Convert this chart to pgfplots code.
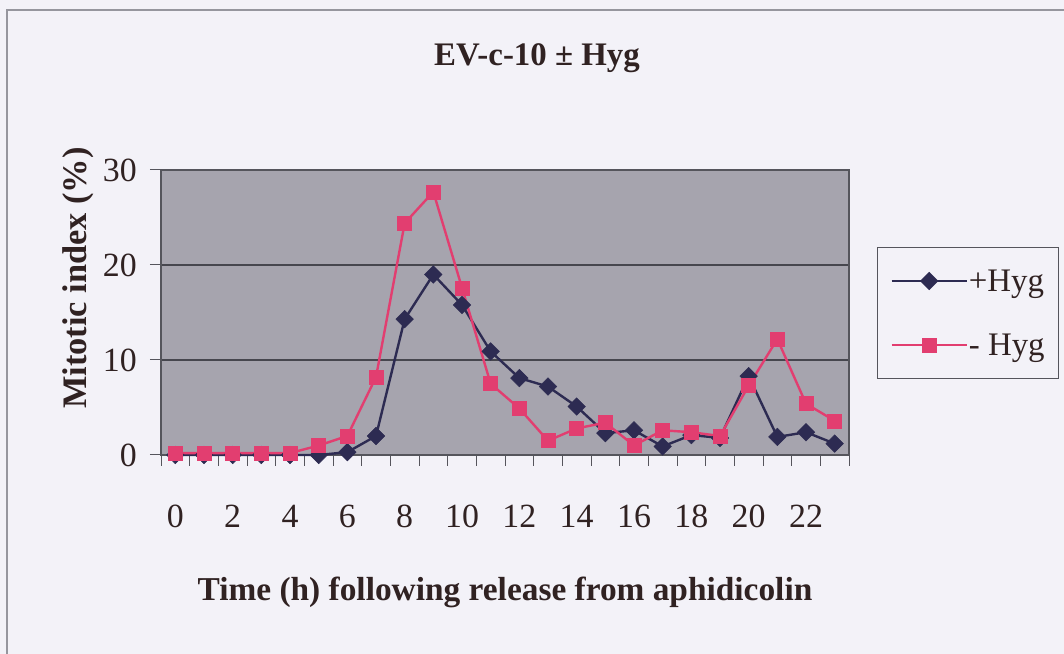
\documentclass[border=0pt]{standalone}
\usepackage{fontspec}
\setmainfont{Liberation Serif}
\usepackage{pgfplots}
\usepackage{pgfplotstable}
\pgfplotsset{compat=1.18}
\definecolor{pagebg}{RGB}{243,242,248}
\definecolor{plotbg}{RGB}{166,164,174}
\definecolor{axisc}{RGB}{85,85,92}
\definecolor{gridc}{RGB}{70,70,78}
\definecolor{navyc}{RGB}{45,43,82}
\definecolor{pinkc}{RGB}{226,62,112}
\definecolor{textc}{RGB}{48,34,34}
\definecolor{framec}{RGB}{150,150,158}

\pgfplotstableread{
t plus minus
0 0.0 0.2
1 0.0 0.2
2 0.0 0.2
3 0.0 0.2
4 0.0 0.2
5 0.0 1.0
6 0.3 2.0
7 2.0 8.2
8 14.3 24.4
9 19.0 27.7
10 15.8 17.6
11 10.9 7.5
12 8.1 4.9
13 7.2 1.5
14 5.1 2.8
15 2.3 3.4
16 2.6 1.0
17 0.9 2.6
18 2.1 2.4
19 1.8 2.0
20 8.3 7.3
21 1.9 12.2
22 2.4 5.4
23 1.2 3.6
}\datatable

\begin{document}
\begin{tikzpicture}[font=\fontsize{33}{40}\selectfont, every node/.append style={text=textc}]
\useasboundingbox (0bp,0bp) rectangle (1064bp,654bp);
\fill[pagebg] (0bp,0bp) rectangle (1064bp,654bp);
\draw[framec, line width=1.2bp] (7bp,0bp) -- (7bp,644bp) -- (1064bp,644bp);
\begin{axis}[
  at={(161bp,199bp)}, anchor=south west,
  scale only axis, width=688bp, height=285bp,
  xmin=-0.5, xmax=23.5, ymin=0, ymax=30,
  clip=false,
  axis background/.style={fill=plotbg},
  axis line style={draw=axisc, line width=1.2bp},
  tick align=outside, major tick length=11bp,
  tick style={draw=axisc, line width=1bp},
  xtick pos=bottom, ytick pos=left,
  xtick={-0.5,0.5,...,23.5}, xticklabels={},
  extra x ticks={0,2,...,22},
  extra x tick labels={0,2,4,6,8,10,12,14,16,18,20,22},
  extra x tick style={major tick length=0pt, xticklabel style={anchor=base, yshift=-72bp}},
  ytick={0,10,20,30}, yticklabels={0,10,20,30},
  yticklabel style={anchor=east, inner sep=0pt, xshift=-13bp},
  ticklabel style={font=\fontsize{34}{40}\selectfont},
  ymajorgrids, grid style={draw=gridc, line width=1.1bp},
  title={EV-c-10 ± Hyg},
  title style={at={(axis description cs:0.5465,1.344)}, anchor=base, font=\bfseries\fontsize{33}{40}\selectfont},
  xlabel={Time (h) following release from aphidicolin},
  xlabel style={at={(axis description cs:0.5,-0.509)}, anchor=base, font=\bfseries\fontsize{33.5}{40}\selectfont},
  ylabel={Mitotic index (\%)},
  ylabel style={at={(axis description cs:-0.108,0.621)}, anchor=base, rotate=0, font=\bfseries\fontsize{34.5}{40}\selectfont},
  legend style={at={(axis description cs:1.0407,0.7298)}, anchor=north west,
    draw=axisc, line width=1bp, fill=pagebg, inner xsep=13bp, inner ysep=21bp,
    row sep=39bp, nodes={inner sep=1bp, text=textc}, font=\fontsize{33}{40}\selectfont},
  legend cell align=left,
  legend image code/.code={\draw[mark repeat=2,mark phase=2,#1] plot coordinates {(0bp,0bp)(37.5bp,0bp)(75bp,0bp)};},
]
\addplot[navyc, line width=2.4bp, mark=square*, mark size=6.2bp, mark options={rotate=45, fill=navyc, draw=navyc, line width=0.5bp}] table[x=t, y=plus] {\datatable};
\addlegendentry{+Hyg}
\addplot[pinkc, line width=2.4bp, mark=square*, mark size=7bp, mark options={fill=pinkc, draw=pinkc, line width=0.5bp}] table[x=t, y=minus] {\datatable};
\addlegendentry{- Hyg}
\end{axis}
\end{tikzpicture}
\end{document}
